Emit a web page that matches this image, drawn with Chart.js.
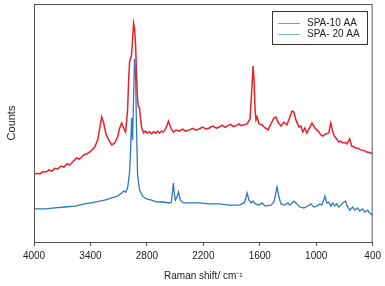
<!DOCTYPE html>
<html>
<head>
<meta charset="utf-8">
<script src="https://cdn.jsdelivr.net/npm/chart.js@4.4.1/dist/chart.umd.min.js"></script>
<style>
  html, body { margin: 0; padding: 0; background: #fff; }
  #wrap { width: 385px; height: 286px; }
</style>
</head>
<body>
<div id="wrap"><canvas id="chart" width="385" height="286"></canvas></div>
<script>
// wavenumbers (cm-1) and intensities (arbitrary units)
const redShift = [
    4000,3968,3936,3905,3873,3841,3809,3778,3746,3714,
    3682,3650,3619,3582,3545,3520,3492,3465,3439,3396,
    3354,3322,3301,3280,3259,3238,3206,3174,3142,3111,
    3089,3068,3047,3026,3005,2994,2984,2973,2963,2952,
    2942,2931,2920,2910,2899,2889,2878,2868,2857,2836,
    2815,2793,2772,2751,2730,2708,2687,2666,2645,2624,
    2592,2571,2550,2518,2490,2454,2420,2390,2348,2310,
    2280,2242,2210,2170,2137,2100,2060,2031,2000,1970,
    1946,1910,1880,1861,1820,1800,1777,1735,1703,1682,
    1671,1661,1650,1640,1629,1608,1576,1544,1512,1481,
    1449,1428,1407,1375,1343,1311,1280,1258,1237,1216,
    1184,1163,1142,1121,1099,1067,1046,1014,990,972,
    950,930,898,866,845,834,824,808,792,775,
    760,740,718,697,676,644,623,600,580,555,
    527,495,464,430,400];
const redCounts = [
    28.2,28.9,28.6,29.6,29.4,30.3,29.8,31.0,30.7,31.9,
    31.5,32.8,32.4,34.0,35.3,34.8,35.7,36.8,37.0,38.2,
    39.9,42.9,47.9,52.5,50.0,45.8,42.9,40.8,41.6,44.1,
    47.9,50.0,47.9,46.2,55.5,68.1,75.6,77.3,78.6,84.9,
    92.0,89.9,82.8,70.2,59.7,56.7,56.3,52.1,48.3,45.8,
    46.6,45.8,46.4,45.4,46.3,45.8,46.5,45.8,46.6,46.2,
    48.3,50.8,48.3,46.2,47.0,46.6,47.4,46.6,47.1,47.8,
    47.0,47.5,48.3,47.5,47.9,48.7,47.8,48.3,49.1,48.2,
    48.7,49.4,48.5,48.7,49.6,48.9,49.2,49.6,51.7,66.0,
    73.9,68.1,55.5,51.3,52.5,49.6,49.2,47.9,47.1,49.6,
    52.1,52.5,50.4,48.7,50.4,49.2,52.5,55.0,54.6,51.3,
    48.3,48.7,46.2,47.9,45.8,48.3,50.0,47.9,47.0,46.2,
    45.0,44.5,45.4,45.8,50.0,48.3,46.2,44.6,43.7,42.9,
    42.0,42.4,41.6,41.9,41.2,43.3,40.3,40.0,39.5,39.4,
    38.7,38.5,37.8,37.6,37.0];

const blueShift = [
    4000,3884,3778,3672,3566,3460,3354,3248,3174,3111,
    3068,3047,3026,3005,2994,2984,2973,2963,2952,2942,
    2931,2920,2910,2899,2878,2846,2804,2751,2687,2624,
    2560,2539,2529,2518,2507,2497,2476,2465,2444,2412,
    2348,2242,2137,2031,1925,1819,1766,1745,1735,1714,
    1692,1671,1650,1608,1576,1544,1481,1449,1428,1417,
    1396,1375,1333,1301,1280,1258,1237,1205,1174,1131,
    1089,1057,1025,993,961,940,919,908,887,866,
    845,824,802,781,760,739,718,686,676,644,
    612,591,559,538,506,485,453,432,400];
const blueCounts = [
    13.9,13.9,14.3,14.7,15.1,16.0,16.8,17.6,18.5,19.3,
    20.6,21.4,21.0,22.7,26.1,29.4,38.7,52.1,42.9,59.7,
    76.9,70.2,47.1,28.2,21.8,19.3,18.1,17.6,16.8,16.8,
    16.4,16.8,20.6,24.8,19.7,17.6,19.3,21.0,17.6,16.4,
    16.4,16.4,16.0,16.0,15.5,15.5,16.4,18.9,20.6,17.6,
    16.4,17.2,16.0,15.5,16.4,15.1,15.5,16.8,21.0,23.1,
    18.9,16.0,15.5,16.4,15.5,16.4,17.2,16.0,14.7,14.3,
    15.1,16.0,14.7,15.1,16.0,15.5,17.6,19.3,16.4,16.8,
    15.1,16.4,15.1,16.0,14.7,15.5,16.4,17.2,15.5,13.4,
    14.7,13.4,14.3,13.0,13.9,12.6,13.4,12.2,11.3];

const xTicks = [4000,3400,2800,2200,1600,1000,400];
const seriesNames = ['SPA-10 AA', 'SPA- 20 AA'];
const seriesColors = ['#e8202a', '#2f78bd'];
const legendColors = ['#f0767c', '#82b2dd'];

const toPts = (xs, ys) => xs.map((x, i) => ({ x, y: ys[i] }));

const FONT = 'Liberation Sans, Arial, sans-serif';
const TXT = '#222';

// box round the plot and the legend in the top right corner
const framePlugin = {
    id: 'frame',
    afterDraw(chart) {
        const { ctx, chartArea: a } = chart;
        ctx.save();
        ctx.strokeStyle = '#555';
        ctx.lineWidth = 1;
        ctx.strokeRect(a.left + 0.5, a.top + 0.5, a.right - a.left - 1, a.bottom - a.top);

        const bx = 272, by = 11, bw = 95, bh = 33;
        ctx.fillStyle = '#fff';
        ctx.fillRect(bx, by, bw, bh);
        ctx.strokeStyle = '#333';
        ctx.strokeRect(bx + 0.5, by + 0.5, bw, bh);
        ctx.font = '10px ' + FONT;
        ctx.textBaseline = 'middle';
        seriesNames.forEach((name, i) => {
            const y = 23 + i * 11;
            ctx.strokeStyle = legendColors[i];
            ctx.beginPath();
            ctx.moveTo(278, y + 0.5);
            ctx.lineTo(300, y + 0.5);
            ctx.stroke();
            ctx.fillStyle = TXT;
            ctx.fillText(name, 307, y);
        });
        ctx.restore();
    }
};

new Chart(document.getElementById('chart'), {
    type: 'line',
    data: {
        datasets: [
            { label: seriesNames[0], data: toPts(redShift, redCounts), borderColor: seriesColors[0], borderWidth: 1.5 },
            { label: seriesNames[1], data: toPts(blueShift, blueCounts), borderColor: seriesColors[1], borderWidth: 1.3 }
        ]
    },
    options: {
        responsive: false,
        animation: false,
        layout: { padding: { top: 4, right: 11, left: 0, bottom: 0 } },
        elements: { point: { radius: 0 }, line: { tension: 0 } },
        plugins: { legend: { display: false }, tooltip: { enabled: false } },
        scales: {
            x: {
                type: 'linear',
                reverse: true,
                min: 400, max: 4000,
                afterBuildTicks: s => { s.ticks = xTicks.map(v => ({ value: v })); },
                afterFit: s => { s.height = 44; },
                grid: { drawOnChartArea: false, tickLength: 4, color: '#555' },
                border: { color: '#555' },
                ticks: { color: TXT, font: { size: 10, family: FONT }, padding: 4, maxRotation: 0, callback: v => String(v) },
                title: { display: true, text: 'Raman shift/ cm\u207B\u00B9', color: TXT, font: { size: 10, family: FONT }, padding: { top: 5 } }
            },
            y: {
                min: 0, max: 100,
                afterFit: s => { s.width = 34; },
                grid: { display: false },
                border: { color: '#555' },
                ticks: { display: false },
                title: { display: true, text: 'Counts', color: TXT, font: { size: 11, family: FONT }, padding: { top: 5, bottom: 0 } }
            }
        }
    },
    plugins: [framePlugin]
});
</script>
</body>
</html>
